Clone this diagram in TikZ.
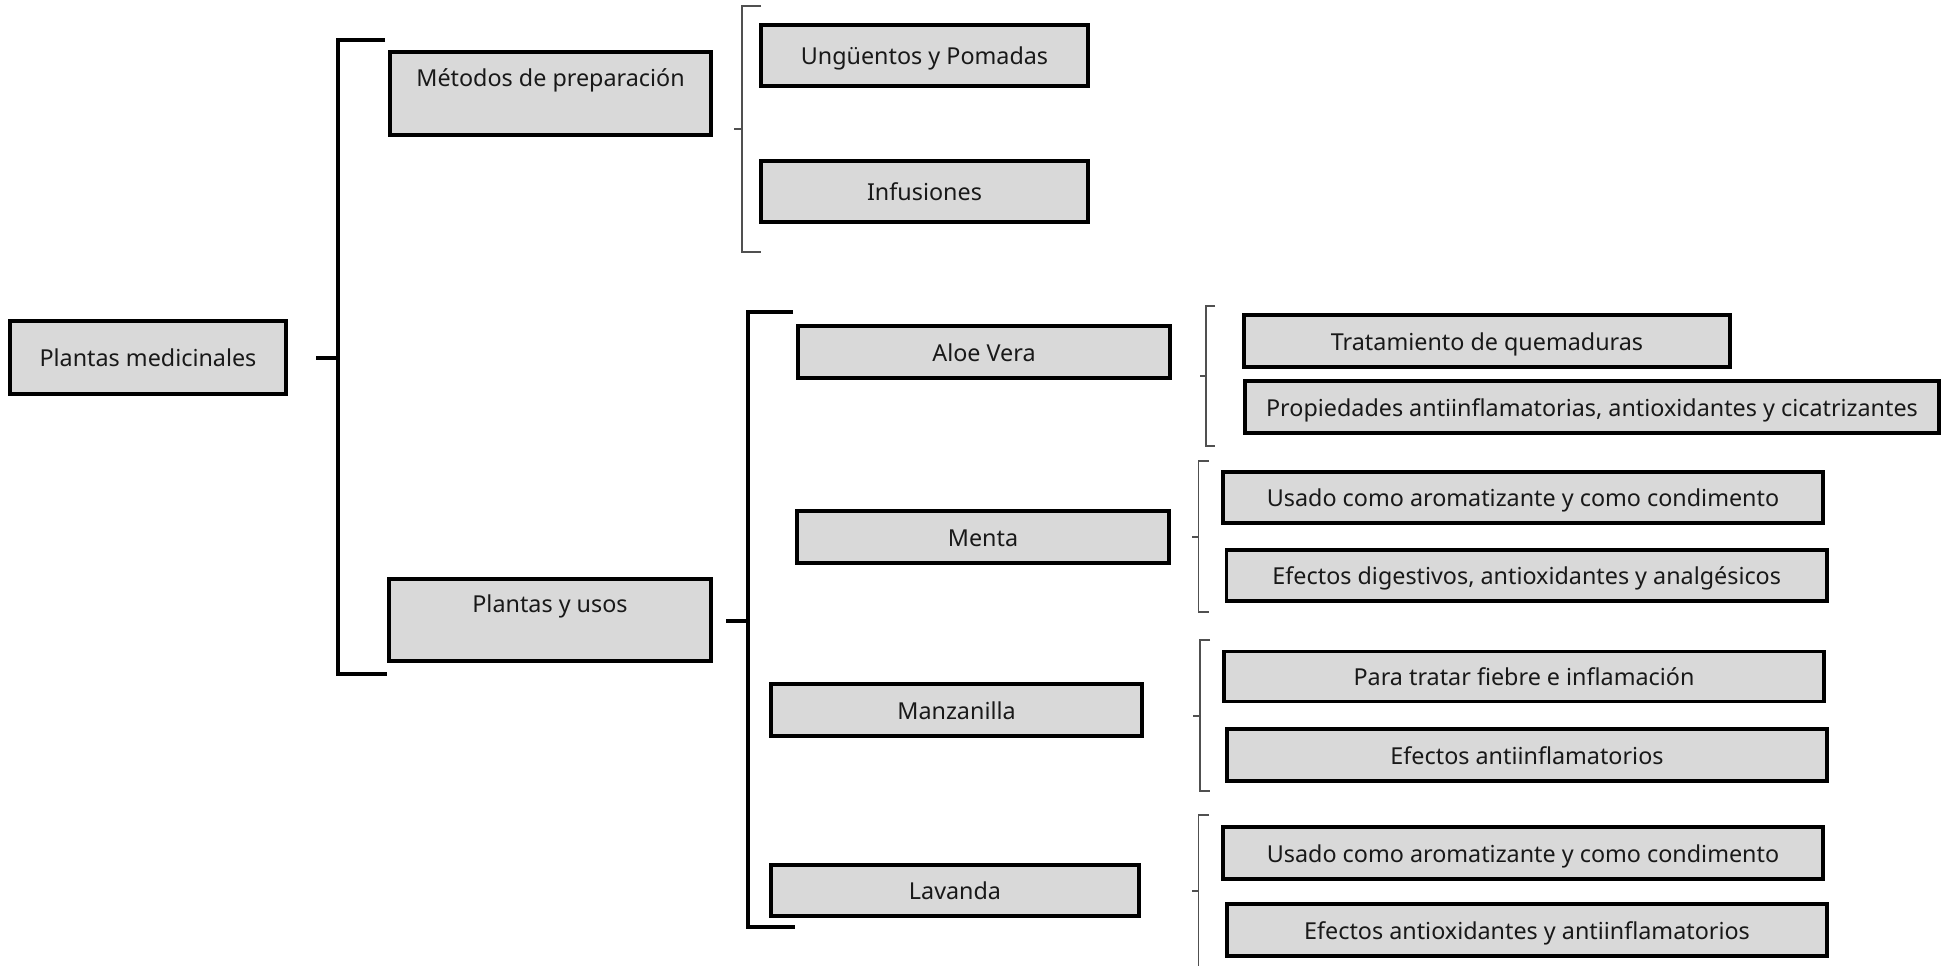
\documentclass[tikz,border=0pt]{standalone}
\usepackage{fontspec}
\setmainfont{Noto Sans}
\definecolor{boxfill}{HTML}{D9D9D9}
\definecolor{thinline}{HTML}{505050}
\begin{document}
\begin{tikzpicture}[x=0.75pt,y=-0.75pt,
  font=\fontsize{17.5}{21}\selectfont,
  box/.style={draw=black, fill=boxfill, line width=2.9pt, inner sep=0pt, text=black!90,
    text height=17.8pt, text depth=4.2pt},
  sz/.style 2 args={minimum width={(#1-3.9)*0.75pt}, minimum height={(#2-3.9)*0.75pt}},
  thick bracket/.style={line width=3pt, line cap=butt, line join=miter},
  thin bracket/.style={draw=thinline, line width=1.1pt, line join=miter},
  txt/.style={inner sep=0pt, text=black!90}]
\useasboundingbox (0,0) rectangle (1950,965);

% nodes
\node[box, sz={280}{77}] (pm) at (148,357.5) {Plantas medicinales};
\node[box, sz={325}{87}] (met) at (550.5,93.5) {};
\node[txt] (mett) at (550.5,80.5) {Métodos de preparación};
\node[box, sz={326}{86}] (pyu) at (550,620) {};
\node[txt] (pyut) at (550,606.5) {Plantas y usos};

\node[box, sz={331}{65}] (ung) at (924.5,55.5) {Ungüentos y Pomadas};
\node[box, sz={331}{65}] (inf) at (924.5,191.5) {Infusiones};

\node[box, sz={376}{56}] (aloe) at (984,352) {Aloe Vera};
\node[box, sz={375.5}{56}] (menta) at (983,537) {Menta};
\node[box, sz={375}{56}] (manz) at (956.5,710) {Manzanilla};
\node[box, sz={372}{55}] (lav) at (955,890.5) {Lavanda};

\node[box, sz={490}{56}] (trat) at (1487,341) {Tratamiento de quemaduras};
\node[box, sz={698}{56}] (prop) at (1592,407) {Propiedades antiinflamatorias, antioxidantes y cicatrizantes};
\node[box, sz={604}{55}] (usa1) at (1523,497.5) {Usado como aromatizante y como condimento};
\node[box, sz={604.5}{55}] (efd) at (1526.75,575.5) {Efectos digestivos, antioxidantes y analgésicos};
\node[box, sz={604}{54}] (para) at (1524,676.5) {Para tratar fiebre e inflamación};
\node[box, sz={604}{56}] (efa) at (1527,755) {Efectos antiinflamatorios};
\node[box, sz={604}{56}] (usa2) at (1523,853) {Usado como aromatizante y como condimento};
\node[box, sz={604.5}{56}] (efx) at (1527,930) {Efectos antioxidantes y antiinflamatorios};

% bracket coordinates
\coordinate (a0) at (316,358);
\coordinate (a1) at (338,358);
\coordinate (at) at (385,40);
\coordinate (ab) at (387,674);

\coordinate (b0) at (734,129);
\coordinate (b1) at (742,129);
\coordinate (bt) at (761,6);
\coordinate (bb) at (761,252);

\coordinate (c0) at (726,621);
\coordinate (c1) at (748,621);
\coordinate (ct) at (793,312);
\coordinate (cb) at (795,927);

\coordinate (d0) at (1200,376);
\coordinate (d1) at (1206,376);
\coordinate (dt) at (1215,306);
\coordinate (db) at (1215,446);

\coordinate (e0) at (1192,537);
\coordinate (e1) at (1198.5,537);
\coordinate (et) at (1209,461);
\coordinate (eb) at (1209,612);

\coordinate (f0) at (1193,716);
\coordinate (f1) at (1200,716);
\coordinate (ft) at (1210,640);
\coordinate (fb) at (1210,791);

\coordinate (g0) at (1192,891);
\coordinate (g1) at (1198.5,891);
\coordinate (gt) at (1209,815);
\coordinate (gb) at (1198.5,968);

% thick brackets
\draw[thick bracket] (a0) -- (a1);
\draw[thick bracket] (at) -| (a1) |- (ab);
\draw[thick bracket] (c0) -- (c1);
\draw[thick bracket] (ct) -| (c1) |- (cb);

% thin brackets
\draw[thin bracket] (b0) -- (b1);
\draw[thin bracket] (bt) -| (b1) |- (bb);
\draw[thin bracket] (d0) -- (d1);
\draw[thin bracket] (dt) -| (d1) |- (db);
\draw[thin bracket] (e0) -- (e1);
\draw[thin bracket] (et) -| (e1) |- (eb);
\draw[thin bracket] (f0) -- (f1);
\draw[thin bracket] (ft) -| (f1) |- (fb);
\draw[thin bracket] (g0) -- (g1);
\draw[thin bracket] (gt) -| (g1) -- (gb);
\end{tikzpicture}
\end{document}
